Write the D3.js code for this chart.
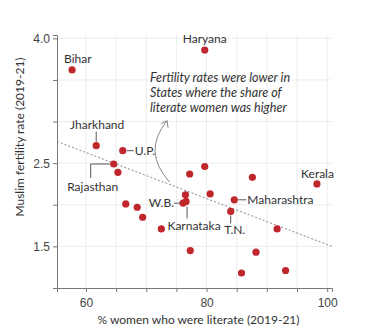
<!DOCTYPE html>
<html>
<head>
<meta charset="utf-8">
<script src="https://cdn.jsdelivr.net/npm/d3@7"></script>
<style>
    body { margin: 0; background: #fff; }
    svg { display: block; font-family: Lato, 'Open Sans', sans-serif; }
    .tick text { fill: #444; font-size: 12px; }
    .lbl { fill: #333; font-size: 12px; }
</style>
</head>
<body>
<div id="chart"></div>
<script>
// Data
var literacy  = [57.7, 79.7, 61.7, 66.1, 64.6, 65.3, 66.6, 68.5, 69.4, 72.5, 76.5, 76.1, 76.6, 77.2, 79.7, 77.3, 80.6, 87.6, 98.3, 84.6, 84.0, 91.7, 88.2, 85.8, 93.1];
var fertility = [3.62, 3.86, 2.71, 2.65, 2.49, 2.39, 2.01, 1.97, 1.85, 1.71, 2.12, 2.02, 2.04, 2.37, 2.46, 1.45, 2.13, 2.33, 2.25, 2.06, 1.92, 1.71, 1.43, 1.18, 1.21];
var states    = ['Bihar', 'Haryana', 'Jharkhand', 'U.P.', 'Rajasthan', '', '', '', '', '', '', 'W.B.', 'Karnataka', '', '', '', '', '', 'Kerala', 'Maharashtra', 'T.N.', '', '', '', ''];
var xTicks = [60, 65, 70, 75, 80, 85, 90, 95, 100];
var xTickLabels = [60, 80, 100];
var yTicks = [1.5, 2, 2.5, 3, 3.5, 4];
var yTickLabels = [1.5, 2.5, 4];
var trendX = [55.2, 100.8];
var trendY = [2.76, 1.5];

var svgWidth = 374;
var svgHeight = 336;
var margin = { top: 35, right: 42, bottom: 48, left: 57 };
var chartWidth = svgWidth - margin.left - margin.right;
var chartHeight = svgHeight - margin.top - margin.bottom;

var svg = d3.select('#chart').append('svg')
    .attr('width', svgWidth)
    .attr('height', svgHeight);

var chartGroup = svg.append('g')
    .attr('transform', `translate(${margin.left}, ${margin.top})`);

var x = d3.scaleLinear().domain([55.2, 100.8]).range([0, chartWidth]);
var y = d3.scaleLinear().domain([1.0, 4.04]).range([chartHeight, 0]);

// Grid
chartGroup.append('g').selectAll('line')
    .data(xTicks).enter().append('line')
    .attr('x1', d => x(d)).attr('x2', d => x(d))
    .attr('y1', 0).attr('y2', chartHeight)
    .attr('stroke', '#ececec');
chartGroup.append('g').selectAll('line')
    .data(yTicks).enter().append('line')
    .attr('x1', 0).attr('x2', chartWidth)
    .attr('y1', d => y(d)).attr('y2', d => y(d))
    .attr('stroke', '#ececec');

// Axes
var bottomAxis = d3.axisBottom(x).tickValues(xTicks).tickSize(4)
    .tickFormat(d => xTickLabels.includes(d) ? d : '');
var leftAxis = d3.axisLeft(y).tickValues(yTicks).tickSize(4)
    .tickFormat(d => yTickLabels.includes(d) ? d3.format('.1f')(d) : '');

var xAxis = chartGroup.append('g')
    .attr('transform', `translate(0, ${chartHeight})`)
    .call(bottomAxis);
var yAxis = chartGroup.append('g').call(leftAxis);

[xAxis, yAxis].forEach(function(a) {
    a.select('.domain').attr('stroke', '#777');
    a.selectAll('.tick line').attr('stroke', '#777');
    a.selectAll('.tick text').attr('font-family', null).attr('font-size', null);
});
xAxis.selectAll('.tick text').attr('dy', '1.0em');

// Trend line
chartGroup.append('line')
    .attr('x1', x(trendX[0])).attr('y1', y(trendY[0]))
    .attr('x2', x(trendX[1])).attr('y2', y(trendY[1]))
    .attr('stroke', '#888')
    .attr('stroke-width', 1)
    .attr('stroke-dasharray', '2,2');

// Arrow from the trend line up to the note
var ax0 = x(73.9), ay0 = y(2.27);
var ax1 = x(73.45), ay1 = y(3.01);
chartGroup.append('path')
    .attr('d', `M${ax0},${ay0} Q${ax0 - 28},${(ay0 + ay1) / 2} ${ax1},${ay1}`)
    .attr('fill', 'none').attr('stroke', '#888').attr('stroke-width', 1);
chartGroup.append('path')
    .attr('d', `M${ax1 - 6},${ay1 + 3} L${ax1},${ay1} L${ax1 + 1},${ay1 + 7}`)
    .attr('fill', 'none').attr('stroke', '#888').attr('stroke-width', 1);

// Points
var points = literacy.map((d, i) => ({ x: d, y: fertility[i], name: states[i] }));

chartGroup.selectAll('circle')
    .data(points).enter().append('circle')
    .attr('cx', d => x(d.x))
    .attr('cy', d => y(d.y))
    .attr('r', 3.6)
    .attr('fill', '#c0272d');

// Labels with their connectors (offsets in pixels from the point)
var labelStyle = {
    'Bihar':       { dx: -8,  dy: -7,  anchor: 'start',  line: null },
    'Haryana':     { dx: 0,   dy: -7,  anchor: 'middle', line: null },
    'Jharkhand':   { dx: 1,   dy: -17, anchor: 'middle', line: [[0, -4], [0, -14]] },
    'U.P.':        { dx: 12,  dy: 4,   anchor: 'start',  line: [[4, 0], [11, 0]] },
    'Rajasthan':   { dx: -21, dy: 27,  anchor: 'middle', line: [[-4, 0], [-23, 0], [-23, 14]] },
    'W.B.':        { dx: -9,  dy: 4,   anchor: 'end',    line: [[-3, 0], [-9, 0]] },
    'Karnataka':   { dx: 8,   dy: 29,  anchor: 'middle', line: [[1, 5], [1, 17]] },
    'Maharashtra': { dx: 13,  dy: 4,   anchor: 'start',  line: [[4, 0], [12, 0]] },
    'T.N.':        { dx: 4,   dy: 23,  anchor: 'middle', line: [[0, 4], [0, 12]] },
    'Kerala':      { dx: 17,  dy: -6,  anchor: 'end',    line: null }
};

var labelled = points.filter(d => d.name !== '');
labelled.forEach(function(d) {
    var s = labelStyle[d.name];
    var px = x(d.x), py = y(d.y);
    if (s.line) {
        chartGroup.append('polyline')
            .attr('points', s.line.map(p => `${px + p[0]},${py + p[1]}`).join(' '))
            .attr('fill', 'none').attr('stroke', '#555').attr('stroke-width', 1);
    }
    chartGroup.append('text')
        .attr('class', 'lbl')
        .attr('x', px + s.dx)
        .attr('y', py + s.dy)
        .attr('text-anchor', s.anchor)
        .text(d.name);
});

// Note
var note = chartGroup.append('text')
    .attr('x', 93)
    .attr('y', 47)
    .attr('fill', '#333')
    .attr('font-size', '12.6px')
    .attr('font-style', 'italic');
['Fertility rates were lower in', 'States where the share of', 'literate women was higher']
    .forEach(function(t, i) {
        note.append('tspan').attr('x', 93).attr('dy', i === 0 ? 0 : 15).text(t);
    });

// Axis titles
svg.append('text')
    .attr('x', margin.left + chartWidth / 2 + 4)
    .attr('y', 324)
    .attr('text-anchor', 'middle')
    .attr('fill', '#333')
    .attr('font-size', '12px')
    .text('% women who were literate (2019-21)');

svg.append('text')
    .attr('transform', 'translate(24, 137) rotate(-90)')
    .attr('text-anchor', 'middle')
    .attr('fill', '#333')
    .attr('font-size', '12px')
    .text('Muslim fertility rate (2019-21)');
</script>
</body>
</html>
